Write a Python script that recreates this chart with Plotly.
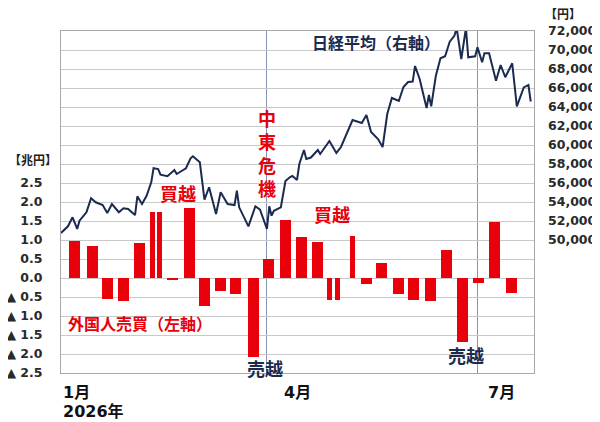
import plotly.graph_objects as go

# ---- data ----
bar_dates = ["2026-01-08", "2026-01-15 12:00", "2026-01-22", "2026-01-29", "2026-02-05",
             "2026-02-10 12:00", "2026-02-13 12:00", "2026-02-19", "2026-02-26 12:00", "2026-03-05",
             "2026-03-12", "2026-03-18 12:00", "2026-03-26", "2026-04-01 12:00", "2026-04-09",
             "2026-04-16", "2026-04-23", "2026-04-28", "2026-05-01 12:00", "2026-05-08",
             "2026-05-14", "2026-05-20 12:00", "2026-05-28", "2026-06-03 12:00", "2026-06-10 12:00",
             "2026-06-17 12:00", "2026-06-24 12:00", "2026-07-01 12:00", "2026-07-08 12:00", "2026-07-15 12:00"]
foreign_net = [0.98, 0.85, -0.55, -0.60, 0.92,
               1.74, 1.74, -0.03, 1.84, -0.73,
               -0.33, -0.42, -2.09, 0.50, 1.53,
               1.08, 0.95, -0.57, -0.57, 1.11,
               -0.16, 0.39, -0.42, -0.57, -0.60,
               0.74, -1.69, -0.14, 1.48, -0.40]
bar_is_narrow = [0, 0, 0, 0, 0, 1, 1, 0, 0, 0, 0, 0, 0, 0, 0,
                 0, 0, 1, 1, 1, 0, 0, 0, 0, 0, 0, 0, 0, 0, 0]

nikkei_dates = ["2026-01-02", "2026-01-05", "2026-01-07", "2026-01-09", "2026-01-10",
                "2026-01-13", "2026-01-15", "2026-01-17", "2026-01-20", "2026-01-22",
                "2026-01-24", "2026-01-27", "2026-01-29", "2026-01-31", "2026-02-03",
                "2026-02-04", "2026-02-06", "2026-02-08", "2026-02-10", "2026-02-11",
                "2026-02-13", "2026-02-14", "2026-02-17", "2026-02-20", "2026-02-21",
                "2026-02-23", "2026-02-25", "2026-02-27", "2026-02-28", "2026-03-03",
                "2026-03-05", "2026-03-07", "2026-03-10", "2026-03-12", "2026-03-15",
                "2026-03-18", "2026-03-19", "2026-03-20", "2026-03-24", "2026-03-27",
                "2026-03-29", "2026-04-01", "2026-04-02", "2026-04-03", "2026-04-04",
                "2026-04-07", "2026-04-09", "2026-04-11", "2026-04-12", "2026-04-14",
                "2026-04-15", "2026-04-17", "2026-04-18", "2026-04-20", "2026-04-23",
                "2026-04-24", "2026-04-26", "2026-04-28", "2026-05-01", "2026-05-03",
                "2026-05-08", "2026-05-12", "2026-05-14", "2026-05-16", "2026-05-19",
                "2026-05-21", "2026-05-23", "2026-05-25", "2026-05-28", "2026-05-30",
                "2026-06-01", "2026-06-03", "2026-06-04", "2026-06-06", "2026-06-09",
                "2026-06-10", "2026-06-11", "2026-06-13", "2026-06-15", "2026-06-17",
                "2026-06-19", "2026-06-21", "2026-06-22", "2026-06-24", "2026-06-26",
                "2026-06-27", "2026-06-30", "2026-07-01", "2026-07-03", "2026-07-04",
                "2026-07-06", "2026-07-09", "2026-07-11", "2026-07-13", "2026-07-16",
                "2026-07-18", "2026-07-21", "2026-07-23", "2026-07-24"]
nikkei = [50740, 51440, 52390, 51160, 52030,
          52920, 54390, 53970, 53680, 52840,
          53790, 52920, 53340, 53260, 52630,
          54600, 53790, 54660, 56070, 57550,
          57470, 56870, 56710, 57370, 56950,
          57290, 57550, 58600, 58810, 58180,
          54240, 55550, 52740, 55020, 53790,
          53680, 55190, 53440, 51440, 53550,
          53190, 51160, 53550, 52560, 53080,
          53440, 56210, 56630, 56740, 56320,
          58000, 59470, 58530, 58680, 59470,
          59050, 59680, 60420, 59160, 59790,
          62630, 62320, 63160, 61370, 60630,
          59790, 63260, 64950, 64630, 66110,
          66630, 66680, 68320, 66950, 63890,
          65260, 64070, 67290, 69130, 69340,
          70870, 71500, 72300, 69050, 72300,
          69230, 69340, 70280, 68710, 69650,
          69650, 66770, 68420, 67130, 68600,
          64070, 66070, 66320, 64580]

left_ticks = [-2.5, -2.0, -1.5, -1.0, -0.5, 0.0, 0.5, 1.0, 1.5, 2.0, 2.5,
              3.0, 3.5, 4.0, 4.5, 5.0, 5.5, 6.0, 6.5]
left_tick_text = ["▲ 2.5", "▲ 2.0", "▲ 1.5", "▲ 1.0", "▲ 0.5", "0.0", "0.5", "1.0", "1.5", "2.0", "2.5",
                  "", "", "", "", "", "", "", ""]
right_ticks = [50000, 52000, 54000, 56000, 58000, 60000, 62000, 64000, 66000, 68000, 70000, 72000]
month_lines = ["2026-04-01", "2026-07-01"]

# ---- styles ----
RED = "#e8000b"
NAVY = "#1b2b4f"
DAY_MS = 86400000
bar_widths = [DAY_MS * (1.95 if n else 4.75) for n in bar_is_narrow]

fig = go.Figure()
fig.add_trace(go.Bar(x=bar_dates, y=foreign_net, width=bar_widths,
                     marker=dict(color=RED, line=dict(width=0)), yaxis="y"))
fig.add_trace(go.Scatter(x=nikkei_dates, y=nikkei, mode="lines",
                         line=dict(color=NAVY, width=2), yaxis="y2"))

FONT = "DejaVu Sans, Noto Sans CJK JP"
JP = "Noto Sans CJK JP"

# page has an 8px body margin; the figure is sized to fit the 600x422 window
fig.update_layout(
    width=592, height=414,
    margin=dict(l=53, r=66, t=23, b=49),
    paper_bgcolor="white", plot_bgcolor="white",
    showlegend=False,
    font=dict(family=FONT, color="#222"),
    bargap=0,
    xaxis=dict(type="date", range=["2026-01-02", "2026-07-25 10:00"],
               tickvals=month_lines, showticklabels=False, ticks="",
               showgrid=True, gridcolor="#8793b0", gridwidth=1,
               showline=True, linecolor="#a8a8a8", linewidth=1, mirror=True,
               zeroline=False, automargin=False),
    yaxis=dict(range=[-2.5, 6.5], tickvals=left_ticks, ticktext=left_tick_text,
               showgrid=True, gridcolor="#c9c9c9", gridwidth=1,
               showline=True, linecolor="#a8a8a8", linewidth=1, mirror=True,
               zeroline=False, ticks="", ticklabelstandoff=15, automargin=False,
               tickfont=dict(size=12.5, family=FONT, color="#2a2a2a", weight="bold")),
    yaxis2=dict(range=[36000, 72000], overlaying="y", side="right",
                tickvals=right_ticks, tickformat=",", showgrid=False, zeroline=False,
                showline=False, ticks="", ticklabelstandoff=13, automargin=False,
                tickfont=dict(size=12.5, family=FONT, color="#2a2a2a", weight="bold")),
)

def ann(text, xp, yp, color, size, xanchor="center", family=JP):
    # xp, yp: position in the 600x422 window; plot area spans 61..534 x 31..373
    x, y = (xp - 61) / (534 - 61), (373 - yp) / (373 - 31)
    fig.add_annotation(text=text, x=x, y=y, xref="paper", yref="paper",
                       xanchor=xanchor, yanchor="middle", showarrow=False,
                       font=dict(family=family, size=size, color=color, weight="bold"))

ann("日経平均（右軸）", 376, 42, NAVY, 16)
ann("中<br>東<br>危<br>機", 267, 153, RED, 18)
ann("買越", 178, 193, RED, 18)
ann("買越", 332, 214, RED, 18)
ann("外国人売買（左軸）", 140, 323, RED, 16)
ann("売越", 265, 368, NAVY, 18)
ann("売越", 466, 355, NAVY, 18)
ann("1月", 61, 392, "#111", 16, "left", FONT)
ann("4月", 282, 392, "#111", 16, "left", FONT)
ann("7月", 486, 392, "#111", 16, "left", FONT)
ann("2026年", 61, 411, "#111", 16, "left", FONT)
ann("【兆円】", 33, 159, "#222", 12)
ann("【円】", 563, 13, "#222", 12)

fig.write_html("out.html")
